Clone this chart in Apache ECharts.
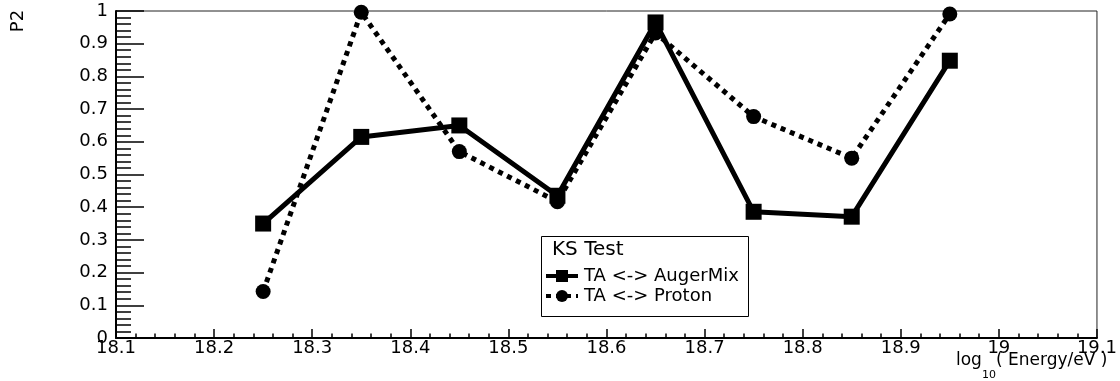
<!DOCTYPE html>
<html>
<head>
<meta charset="utf-8">
<script src="https://cdn.jsdelivr.net/npm/echarts@6/dist/echarts.min.js"></script>
<style>
  html, body { margin: 0; padding: 0; background: #fff; }
  #chart { width: 1120px; height: 381px; }
</style>
</head>
<body>
<div id="chart"></div>
<script>
// log10(E/eV) bin centres
const energyBins = [18.25, 18.35, 18.45, 18.55, 18.65, 18.75, 18.85, 18.95];
// KS-test p-values
const augerMixP = [0.35, 0.615, 0.65, 0.435, 0.965, 0.386, 0.371, 0.848];
const protonP = [0.142, 0.996, 0.57, 0.417, 0.933, 0.677, 0.55, 0.991];
const seriesNames = ['TA <-> AugerMix', 'TA <-> Proton'];
const legendTitle = 'KS Test';
const yTitle = 'P2';

const FONT = 'DejaVu Sans';
const fmt = v => String(parseFloat(Number(v).toFixed(2)));

const toPairs = ys => energyBins.map((x, i) => [x, ys[i]]);

const chart = echarts.init(document.getElementById('chart'), null, { renderer: 'canvas' });

chart.setOption({
  animation: false,
  backgroundColor: '#fff',
  textStyle: { fontFamily: FONT, color: '#000' },
  grid: {
    left: 116, right: 16, top: 11, bottom: 43,
    show: true, borderColor: '#222', borderWidth: 1, backgroundColor: 'transparent'
  },
  xAxis: {
    type: 'value', min: 18.1, max: 19.1, interval: 0.1,
    axisLine: { show: true, onZero: false, lineStyle: { color: '#000', width: 2 } },
    axisTick: { show: true, inside: true, length: 9, lineStyle: { color: '#000', width: 1.5 } },
    minorTick: { show: true, splitNumber: 5, length: 4.5, lineStyle: { color: '#000', width: 1.5 } },
    splitLine: { show: false },
    axisLabel: { fontFamily: FONT, fontSize: 18, color: '#000', margin: 1, formatter: fmt,
      showMinLabel: true, showMaxLabel: true }
  },
  yAxis: {
    type: 'value', min: 0, max: 1, interval: 0.1,
    axisLine: { show: true, onZero: false, lineStyle: { color: '#000', width: 2 } },
    axisTick: { show: true, inside: true, length: 28, lineStyle: { color: '#000', width: 1.5 } },
    minorTick: { show: true, splitNumber: 5, length: 15, lineStyle: { color: '#000', width: 1.5 } },
    splitLine: { show: false },
    axisLabel: { fontFamily: FONT, fontSize: 18, color: '#000', margin: 8, formatter: fmt,
      showMinLabel: true, showMaxLabel: true }
  },
  legend: {
    data: seriesNames,
    orient: 'vertical',
    left: 544, top: 266,
    padding: 0,
    itemWidth: 32, itemHeight: 15, itemGap: 0,
    z: 6,
    lineStyle: { width: 4 },
    textStyle: { fontFamily: FONT, fontSize: 18, lineHeight: 20, color: '#000', padding: [0, 0, 0, 1] },
    selectedMode: false
  },
  graphic: [
    {
      type: 'rect', z: 5, silent: true,
      shape: { x: 541.5, y: 236.5, width: 207, height: 80 },
      style: { fill: '#fff', stroke: '#000', lineWidth: 1 }
    },
    {
      type: 'text', z: 7, x: 552, y: 250,
      style: { text: legendTitle, font: '20px "' + FONT + '"', fill: '#000', align: 'left', verticalAlign: 'middle' }
    },
    {
      type: 'text', z: 7, x: 18, y: 21, rotation: Math.PI / 2,
      style: { text: yTitle, font: '18px "' + FONT + '"', fill: '#000', align: 'center', verticalAlign: 'middle' }
    },
    {
      type: 'text', z: 7, x: 956, y: 361,
      style: { text: 'log', font: '17px "' + FONT + '"', fill: '#000', align: 'left', verticalAlign: 'middle' }
    },
    {
      type: 'text', z: 7, x: 982, y: 375,
      style: { text: '10', font: '11px "' + FONT + '"', fill: '#000', align: 'left', verticalAlign: 'middle' }
    },
    {
      type: 'text', z: 7, x: 996, y: 361,
      style: { text: '( Energy/eV )', font: '17px "' + FONT + '"', fill: '#000', align: 'left', verticalAlign: 'middle' }
    }
  ],
  series: [
    {
      name: seriesNames[1], type: 'line', data: toPairs(protonP),
      symbol: 'circle', symbolSize: 15, z: 2,
      lineStyle: { color: '#000', width: 5, type: [5, 5], cap: 'butt' },
      itemStyle: { color: '#000' }
    },
    {
      name: seriesNames[0], type: 'line', data: toPairs(augerMixP),
      symbol: 'rect', symbolSize: 16, z: 3,
      lineStyle: { color: '#000', width: 5, type: 'solid' },
      itemStyle: { color: '#000' }
    }
  ]
});
</script>
</body>
</html>
